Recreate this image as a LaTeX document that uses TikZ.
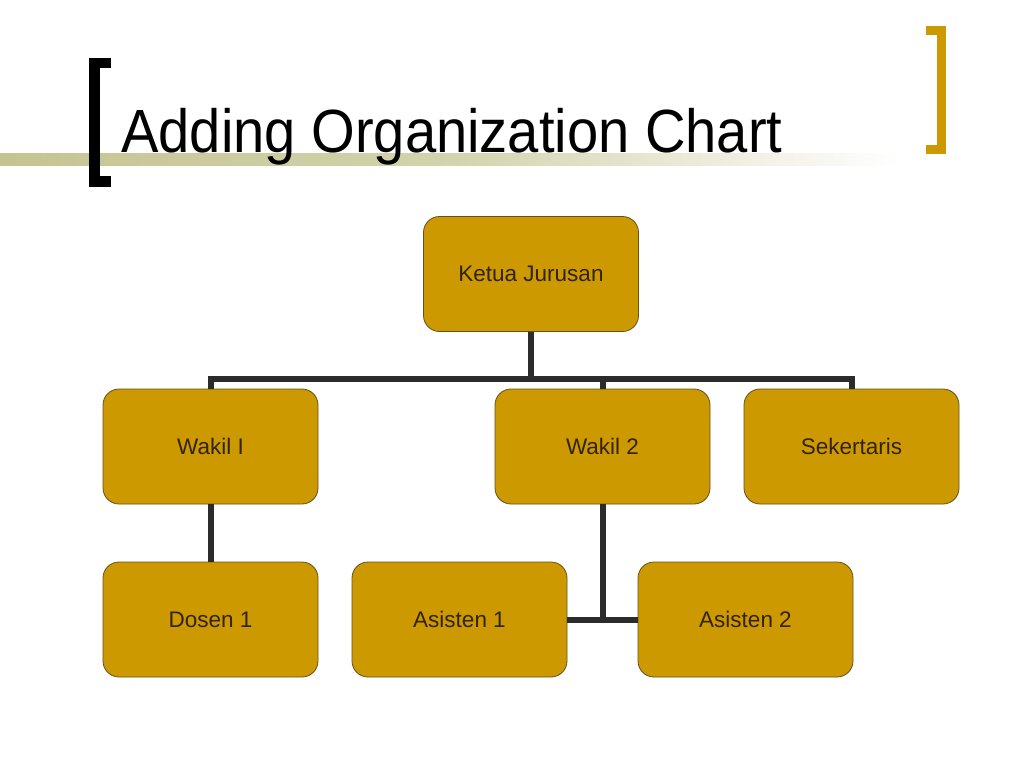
\documentclass[tikz,border=0pt]{standalone}
\usepackage{fontspec}
\setmainfont{Liberation Sans}
\newfontfamily\titlefont[FakeStretch=0.92]{Liberation Sans}
\definecolor{boxfill}{RGB}{204,153,0}
\definecolor{boxline}{RGB}{100,80,30}
\definecolor{boxtext}{RGB}{50,35,10}
\definecolor{conncol}{RGB}{43,43,43}
\definecolor{olivebar}{RGB}{196,196,146}
\definecolor{goldbr}{RGB}{204,153,0}
\tikzset{
  orgbox/.style={draw=boxline, line width=0.8pt, fill=boxfill, rounded corners=16pt,
    minimum width=215pt, minimum height=115pt, inner sep=0pt,
    text=boxtext, font=\fontsize{22.5}{26}\selectfont},
  conn/.style={draw=conncol, line width=6pt, line join=miter},
}
\begin{document}
\begin{tikzpicture}[x=1pt,y=-1pt]
\useasboundingbox (0,0) rectangle (1024,768);
\fill[white] (0,0) rectangle (1024,768);
% gradient bar
\shade[left color=olivebar, right color=white, middle color=olivebar!75] (0,153) rectangle (900,165);
% brackets
\fill[black] (89,58) rectangle (111,68);
\fill[black] (89,58) rectangle (100,187);
\fill[black] (89,176) rectangle (111,187);
\fill[goldbr] (926,26) rectangle (946,35);
\fill[goldbr] (937,26) rectangle (946,154);
\fill[goldbr] (926,145) rectangle (946,154);
% title
\node[anchor=base west, inner sep=0pt, font=\titlefont\fontsize{61}{66}\selectfont] (title) at (121,152) {Adding Organization Chart};
% boxes
\node[orgbox] (kj) at (531,274) {Ketua Jurusan};
\node[orgbox] (w1) at (210.5,446.5) {Wakil I};
\node[orgbox] (w2) at (602.5,446.5) {Wakil 2};
\node[orgbox] (sk) at (851.5,446.5) {Sekertaris};
\node[orgbox] (d1) at (210.5,619.5) {Dosen 1};
\node[orgbox] (a1) at (459.5,619.5) {Asisten 1};
\node[orgbox] (a2) at (745.5,619.5) {Asisten 2};
% connectors
\draw[conn] (kj.south) -- ++(0,47) coordinate (j);
\draw[conn] (w1.north) -- (w1.north |- j) -- (sk.north |- j) -- (sk.north);
\draw[conn] (w2.north) -- (w2.north |- j);
\draw[conn] (w1.south) -- (d1.north);
\draw[conn] (w2.south) -- (w2.south |- a1.east);
\draw[conn] (a1.east) -- (a2.west);
\end{tikzpicture}
\end{document}
